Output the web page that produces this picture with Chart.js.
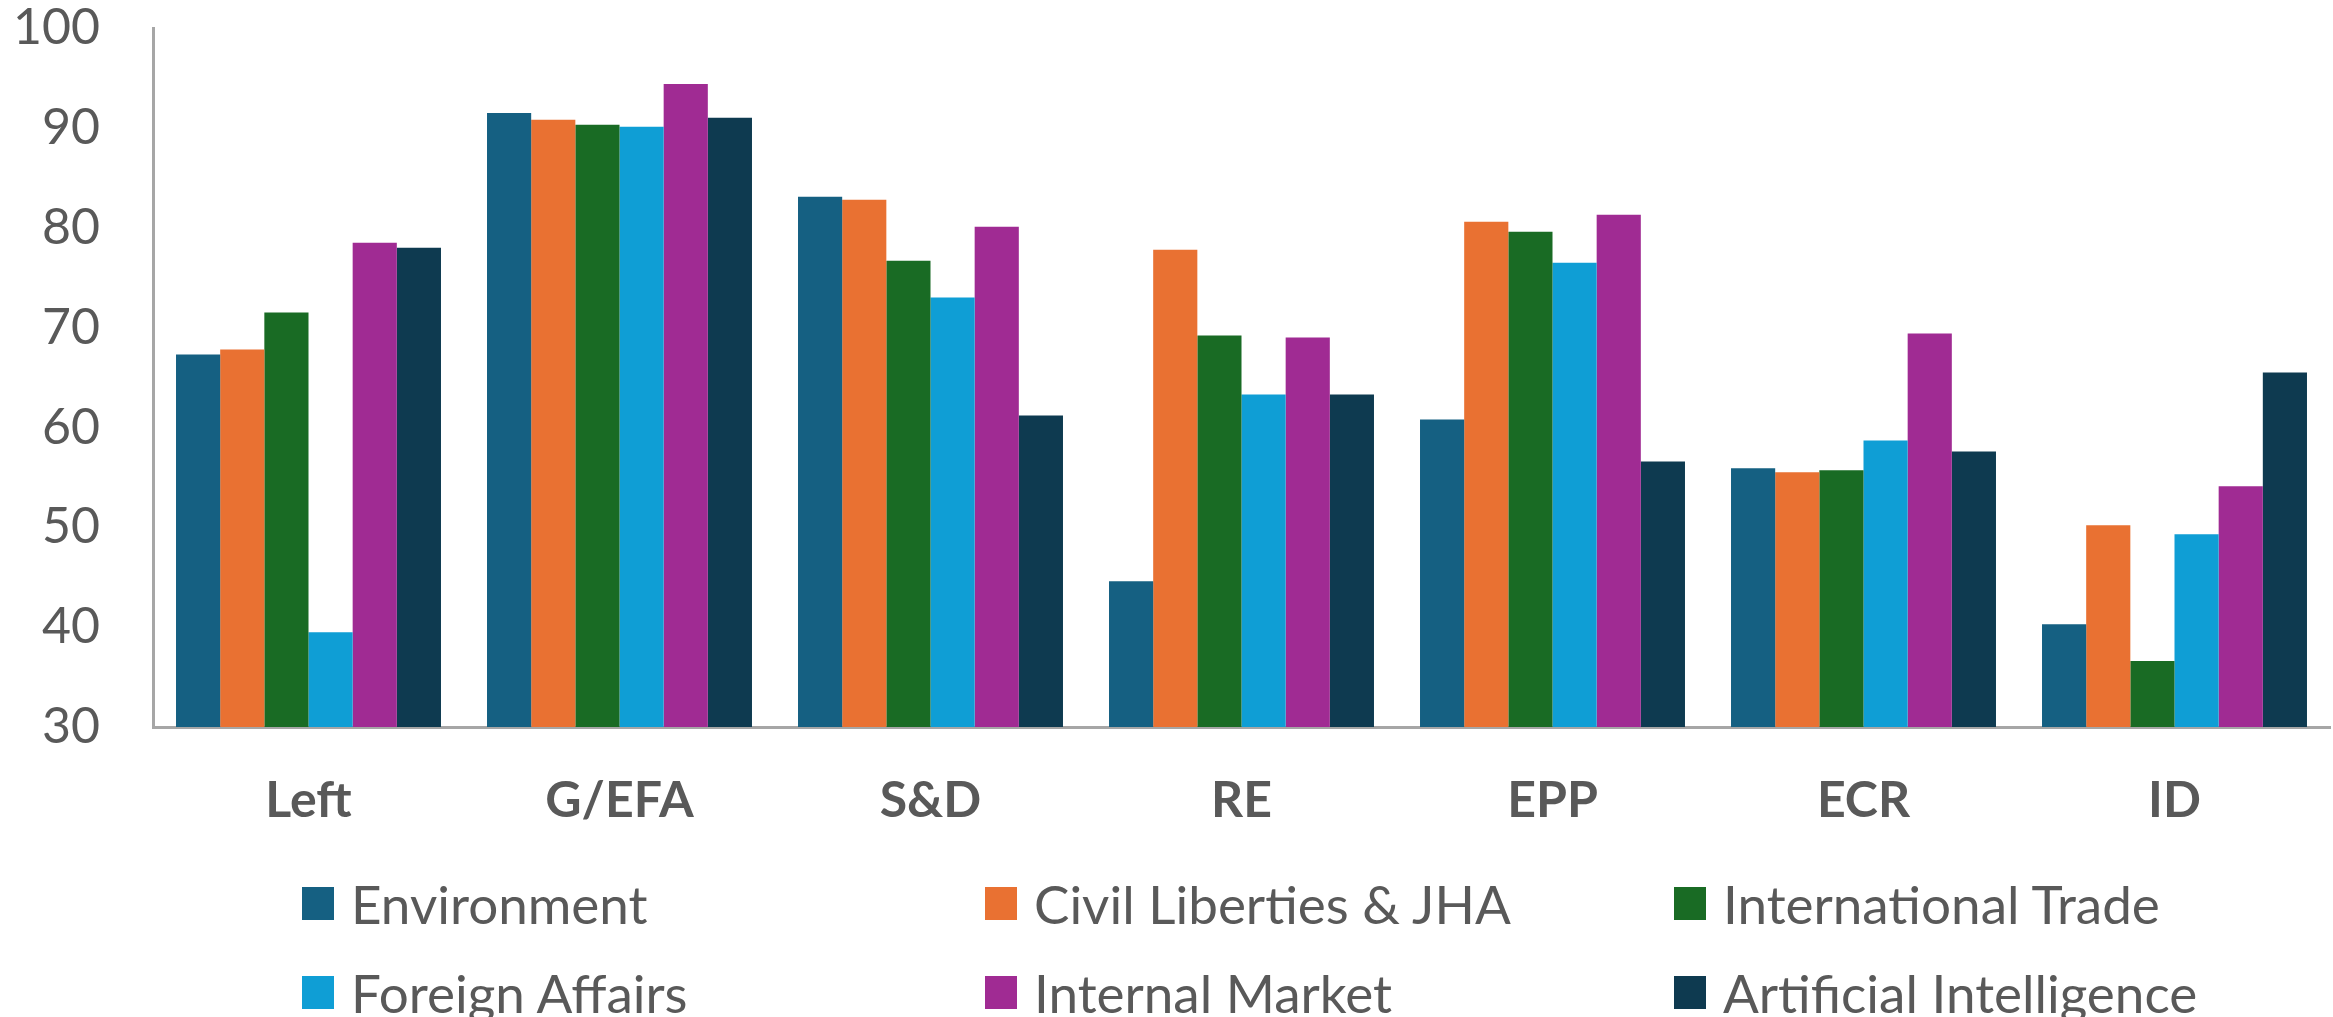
<!DOCTYPE html>
<html>
<head>
<meta charset="utf-8">
<script src="https://cdn.jsdelivr.net/npm/chart.js@4.4.1/dist/chart.umd.min.js"></script>
<style>
  html, body { margin: 0; padding: 0; background: #fff; }
  #wrap { position: relative; width: 2333px; height: 1017px; }
  #chart { position: absolute; left: 0; top: 0; }
  .lg-item { position: absolute; display: flex; align-items: center; height: 40px;
    font-family: Lato, "Open Sans", sans-serif; font-size: 53px; color: #595959; white-space: nowrap; }
  .lg-box { width: 32px; height: 33px; margin-right: 17px; flex: none; }
</style>
</head>
<body>
<div id="wrap">
  <canvas id="chart" width="2333" height="1017"></canvas>
  <div id="legend"></div>
</div>
<script>
// ==================== DATA ====================
const categories = ['Left', 'G/EFA', 'S&D', 'RE', 'EPP', 'ECR', 'ID'];
const seriesNames = ['Environment', 'Civil Liberties & JHA', 'International Trade',
  'Foreign Affairs', 'Internal Market', 'Artificial Intelligence'];

const environment     = [67.3, 91.5, 83.1, 44.6, 60.8, 55.9, 40.3];
const civilLiberties  = [67.8, 90.8, 82.8, 77.8, 80.6, 55.5, 50.2];
const intlTrade       = [71.5, 90.3, 76.7, 69.2, 79.6, 55.7, 36.6];
const foreignAffairs  = [39.5, 90.1, 73.0, 63.3, 76.5, 58.7, 49.3];
const internalMarket  = [78.5, 94.4, 80.1, 69.0, 81.3, 69.4, 54.1];
const artificialIntel = [78.0, 91.0, 61.2, 63.3, 56.6, 57.6, 65.5];

const yTicks = [30, 40, 50, 60, 70, 80, 90, 100];

const colors = ['#156082', '#e97132', '#196b24', '#0f9ed5', '#a02b93', '#0e3a50'];
const allSeries = [environment, civilLiberties, intlTrade, foreignAffairs, internalMarket, artificialIntel];

// ==================== CHART ====================
const axisGray = '#a6a6a6';
const textGray = '#595959';

new Chart(document.getElementById('chart').getContext('2d'), {
  type: 'bar',
  data: {
    labels: categories,
    datasets: allSeries.map((vals, i) => ({
      label: seriesNames[i],
      data: vals,
      backgroundColor: colors[i],
      borderWidth: 0,
      categoryPercentage: 0.852,
      barPercentage: 1.0
    }))
  },
  options: {
    responsive: false,
    devicePixelRatio: 1,
    animation: false,
    layout: { padding: { top: 0, right: 3, left: 0, bottom: 0 } },
    plugins: { legend: { display: false }, tooltip: { enabled: false } },
    scales: {
      x: {
        grid: { display: false, drawTicks: false },
        border: { display: true, color: axisGray, width: 3 },
        ticks: { font: { family: 'Lato', size: 50, weight: 'bold' }, color: textGray, padding: 44 },
        afterFit: s => { s.height = 290; }
      },
      y: {
        min: yTicks[0], max: yTicks[yTicks.length - 1],
        afterBuildTicks: s => { s.ticks = yTicks.map(v => ({ value: v })); },
        grid: { display: false, drawTicks: false },
        border: { display: true, color: axisGray, width: 3 },
        ticks: { font: { family: 'Lato', size: 50, lineHeight: 1.1 }, color: textGray, padding: 53 },
        // tick padding also pads the top; keep the plot top where 100 sits in the original
        afterFit: s => { s.width = 153; s.paddingTop = 28; s.paddingBottom = 0; }
      }
    }
  }
});

// ==================== LEGEND ====================
const legendCols = [302, 985, 1674];
const legendRows = [903, 992];
document.getElementById('legend').innerHTML = seriesNames.map((name, i) => {
  const x = legendCols[i % 3], y = legendRows[Math.floor(i / 3)] - 20;
  return `<div class="lg-item" style="left:${x}px;top:${y}px">
    <div class="lg-box" style="background:${colors[i]}"></div><span>${name.replace('&', '&amp;')}</span></div>`;
}).join('');
</script>
</body>
</html>
